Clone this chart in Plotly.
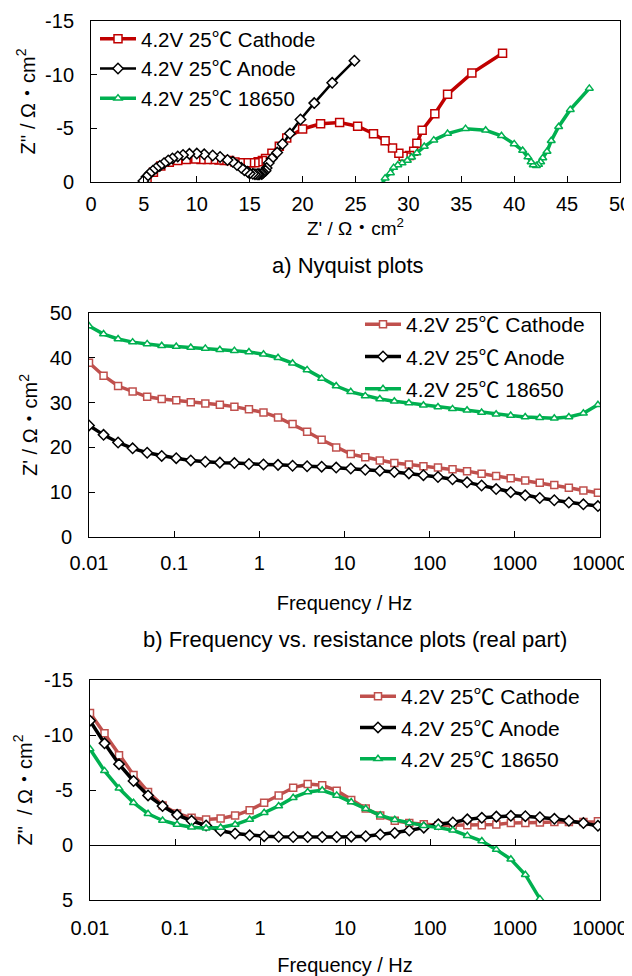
import plotly.graph_objects as go

# ---------------- data ----------------
freq_hz = [0.01, 0.01482, 0.02195, 0.03252, 0.04819, 0.0714, 0.1058, 0.1567, 0.2322, 0.344,
           0.5097, 0.7552, 1.119, 1.658, 2.456, 3.639, 5.392, 7.989, 11.84, 17.54,
           25.98, 38.49, 57.03, 84.5, 125.2, 185.5, 274.8, 407.2, 603.2, 893.8,
           1324, 1962, 2907, 4307, 6381, 9454, 14010, 20750, 30750, 45560,
           67500, 100000]

cathode_zre = [38.9, 36.0, 33.7, 32.5, 31.3, 30.8, 30.5, 30.1, 29.8, 29.5,
               29.1, 28.5, 27.8, 26.7, 25.2, 23.5, 21.7, 20.0, 18.5, 17.8,
               17.1, 16.5, 16.2, 15.8, 15.5, 15.1, 14.7, 14.1, 13.6, 13.1,
               12.6, 12.1, 11.6, 11.0, 10.4, 9.9, 9.0, 8.2, 7.4, 6.6,
               5.9, 5.3]
cathode_zim = [-12.0, -10.15, -8.17, -6.37, -4.82, -3.6, -2.87, -2.47, -2.32, -2.41,
               -2.68, -3.17, -3.84, -4.5, -5.2, -5.55, -5.43, -4.94, -4.09, -3.32,
               -2.68, -2.2, -2.0, -1.89, -1.8, -1.8, -1.8, -1.8, -1.86, -2.0,
               -2.0, -2.05, -2.1, -2.1, -2.1, -2.15, -2.1, -2.0, -1.85, -1.5,
               -0.9, -0.15]

anode_zre = [24.9, 22.8, 21.1, 19.8, 18.8, 18.1, 17.6, 17.1, 16.8, 16.6,
             16.5, 16.3, 16.2, 16.1, 15.9, 15.8, 15.7, 15.5, 15.3, 15.0,
             14.8, 14.5, 14.2, 13.8, 13.4, 12.9, 12.2, 11.5, 10.7, 10.0,
             9.3, 8.7, 8.2, 7.7, 7.3, 6.9, 6.5, 6.15, 5.85, 5.55,
             5.25, 4.95]
anode_zim = [-11.3, -9.24, -7.35, -5.82, -4.51, -3.54, -2.74, -2.2, -1.77, -1.3,
             -1.04, -0.88, -0.8, -0.75, -0.73, -0.72, -0.72, -0.73, -0.76, -0.8,
             -0.95, -1.1, -1.32, -1.58, -1.88, -2.05, -2.33, -2.47, -2.58, -2.65,
             -2.62, -2.52, -2.38, -2.2, -2.0, -1.75, -1.5, -1.28, -1.05, -0.8,
             -0.48, -0.1]

cell_zre = [47.1, 45.3, 44.2, 43.5, 43.1, 42.7, 42.5, 42.3, 42.1, 41.8,
            41.6, 41.3, 40.8, 40.0, 38.8, 37.3, 35.4, 33.7, 32.4, 31.5,
            30.8, 30.3, 29.9, 29.4, 29.0, 28.6, 28.3, 27.8, 27.4, 27.1,
            26.8, 26.6, 26.5, 26.8, 27.6, 29.5, None, None, None, None,
            None, None]
cell_zim = [-8.72, -6.74, -5.15, -3.84, -2.84, -2.23, -1.86, -1.62, -1.52, -1.59,
            -1.86, -2.32, -2.93, -3.55, -4.3, -4.82, -4.97, -4.51, -3.9, -3.3,
            -2.7, -2.3, -2.0, -1.76, -1.58, -1.34, -0.85, -0.36, 0.42, 1.3,
            2.7, 4.9, None, None, None, None, None, None, None, None,
            None, None]

series_names = ["4.2V 25℃ Cathode", "4.2V 25℃ Anode", "4.2V 25℃ 18650"]

nyq_x_ticks = [0, 5, 10, 15, 20, 25, 30, 35, 40, 45, 50]
nyq_y_ticks = [-15, -10, -5, 0]
nyq_y_text = ["-15", "-10", "-5", "0"]
freq_ticks = [0.01, 0.1, 1, 10, 100, 1000, 10000]
freq_tick_text = ["0.01", "0.1", "1", "10", "100", "1000", "10000"]
zre_ticks = [0, 10, 20, 30, 40, 50]
zim_ticks = [-15, -10, -5, 0, 5]
zim_tick_text = ["-15", "-10", "-5", "0", "5"]

captions = ["a) Nyquist plots", "b) Frequency vs. resistance plots (real part)"]

# ---------------- styling ----------------
PAGE_W, PAGE_H = 632, 976
BODY = 8                      # default page margin in front of the figure
W, H = PAGE_W - BODY, PAGE_H - BODY
FONT = "Liberation Sans, Arial, Noto Sans CJK JP, sans-serif"


def px_x(p):
    """page pixel -> paper fraction (x)"""
    return (p - BODY) / W


def px_y(p):
    """page pixel -> paper fraction (y)"""
    return 1 - (p - BODY) / H


def mk(symbol, color, size):
    return dict(symbol=symbol, size=size, color="white", line=dict(color=color, width=1.5))


fig = go.Figure()

# a) Nyquist
nyq_style = [("#C00000", "square", 8, 3.5), ("black", "diamond", 8, 2.5), ("#00B050", "triangle-up", 7, 3.5)]
nyq_data = [(cathode_zre, cathode_zim), (anode_zre, anode_zim), (cell_zre, cell_zim)]
for i, ((xr, yi), (c, s, sz, lw)) in enumerate(zip(nyq_data, nyq_style)):
    fig.add_trace(go.Scatter(x=xr, y=yi, mode="lines+markers", name=series_names[i],
                             line=dict(color=c, width=lw), marker=mk(s, c, sz),
                             xaxis="x", yaxis="y", legend="legend", legendgroup="a%d" % i))

# b) real part vs frequency
fr_style = [("#C0504D", "square", 7, 3.5), ("black", "diamond", 8, 3.5), ("#00B050", "triangle-up", 7, 3.5)]
re_data = [cathode_zre, anode_zre, cell_zre]
for i, (yr, (c, s, sz, lw)) in enumerate(zip(re_data, fr_style)):
    fig.add_trace(go.Scatter(x=freq_hz, y=yr, mode="lines+markers", name=series_names[i],
                             line=dict(color=c, width=lw), marker=mk(s, c, sz),
                             xaxis="x2", yaxis="y2", legend="legend2", legendgroup="b%d" % i))

# c) imaginary part vs frequency
im_data = [cathode_zim, anode_zim, cell_zim]
for i, (yi, (c, s, sz, lw)) in enumerate(zip(im_data, fr_style)):
    fig.add_trace(go.Scatter(x=freq_hz, y=yi, mode="lines+markers", name=series_names[i],
                             line=dict(color=c, width=lw), marker=mk(s, c, sz),
                             xaxis="x3", yaxis="y3", legend="legend3", legendgroup="c%d" % i))

# empty helper trace so the zero-line axis with ticks is drawn
fig.add_trace(go.Scatter(x=[], y=[], xaxis="x4", yaxis="y3", showlegend=False, hoverinfo="skip"))

tick_font = dict(family=FONT, size=20, color="black")
title_font = dict(family=FONT, size=20, color="black")
leg_font = dict(family=FONT, size=21, color="black")

common = dict(showgrid=False, zeroline=False, showline=True, linecolor="black", linewidth=1,
              ticks="inside", ticklen=6, tickcolor="black", tickfont=tick_font, automargin=False,
              ticklabeloverflow="allow")

# zero location for bottom chart
y3_bot, y3_top = 900, 680
zero_px = y3_bot - (y3_bot - y3_top) * (5 / 20)

fig.update_layout(
    width=W, height=H, margin=dict(l=0, r=0, t=0, b=0, autoexpand=False),
    paper_bgcolor="white", plot_bgcolor="white",
    font=dict(family=FONT, color="black"),
    xaxis=dict(domain=[px_x(91), px_x(620)], anchor="y", range=[0, 50], tickvals=nyq_x_ticks,
               mirror=True, ticklabelstandoff=4,
               title=dict(text="Z' / Ω・cm<sup>2</sup>", font=dict(family=FONT, size=19, color="black"),
                          standoff=0), **common),
    yaxis=dict(domain=[px_y(182), px_y(21)], anchor="x", range=[0, -15], tickvals=nyq_y_ticks,
               ticktext=nyq_y_text, mirror=True, ticklabelstandoff=12,
               title=dict(text="Z'' / Ω・cm<sup>2</sup>", font=title_font, standoff=4), **common),
    xaxis2=dict(domain=[px_x(89), px_x(600)], anchor="y2", type="log", range=[-2, 4],
                tickvals=freq_ticks, ticktext=freq_tick_text, mirror=True, ticklabelstandoff=8,
                title=dict(text="Frequency / Hz", font=title_font, standoff=22), **common),
    yaxis2=dict(domain=[px_y(537), px_y(313)], anchor="x2", range=[0, 50], tickvals=zre_ticks,
                mirror=True, ticklabelstandoff=12,
                title=dict(text="Z' / Ω・cm<sup>2</sup>", font=title_font, standoff=6), **common),
    xaxis3=dict(domain=[px_x(90), px_x(600)], anchor="y3", type="log", range=[-2, 4],
                tickvals=freq_ticks, ticktext=freq_tick_text, mirror=True, ticklabelstandoff=10,
                showgrid=False, zeroline=False, showline=True, linecolor="black", linewidth=1,
                ticks="", tickfont=tick_font, automargin=False, ticklabeloverflow="allow",
                title=dict(text="Frequency / Hz", font=title_font, standoff=22)),
    xaxis4=dict(overlaying="x3", anchor="free", position=px_y(zero_px), type="log", range=[-2, 4],
                tickvals=freq_ticks, showticklabels=False, showgrid=False, zeroline=False,
                showline=True, linecolor="black", linewidth=1, ticks="inside", ticklen=6,
                tickcolor="black", side="bottom", automargin=False),
    yaxis3=dict(domain=[px_y(y3_bot), px_y(y3_top)], anchor="x3", range=[5, -15], tickvals=zim_ticks,
                ticktext=zim_tick_text, mirror=True, ticklabelstandoff=12,
                title=dict(text="Z\"  / Ω・cm<sup>2</sup>", font=title_font, standoff=6), **common),
    legend=dict(x=px_x(95), y=px_y(19), xanchor="left", yanchor="top", bgcolor="rgba(0,0,0,0)",
                font=dict(family=FONT, size=20.5, color="black"), itemwidth=36,
                traceorder="grouped", tracegroupgap=0),
    legend2=dict(x=px_x(360), y=px_y(304), xanchor="left", yanchor="top", bgcolor="rgba(0,0,0,0)",
                 font=leg_font, itemwidth=36, traceorder="grouped", tracegroupgap=2),
    legend3=dict(x=px_x(355), y=px_y(676), xanchor="left", yanchor="top", bgcolor="rgba(0,0,0,0)",
                 font=leg_font, itemwidth=36, traceorder="grouped", tracegroupgap=1),
    annotations=[
        dict(text=captions[0], xref="paper", yref="paper", x=px_x(348), y=px_y(265),
             xanchor="center", yanchor="middle", showarrow=False,
             font=dict(family=FONT, size=22, color="black")),
        dict(text=captions[1], xref="paper", yref="paper", x=px_x(355), y=px_y(639),
             xanchor="center", yanchor="middle", showarrow=False,
             font=dict(family=FONT, size=22, color="black")),
    ],
)

fig.write_html("out.html")
